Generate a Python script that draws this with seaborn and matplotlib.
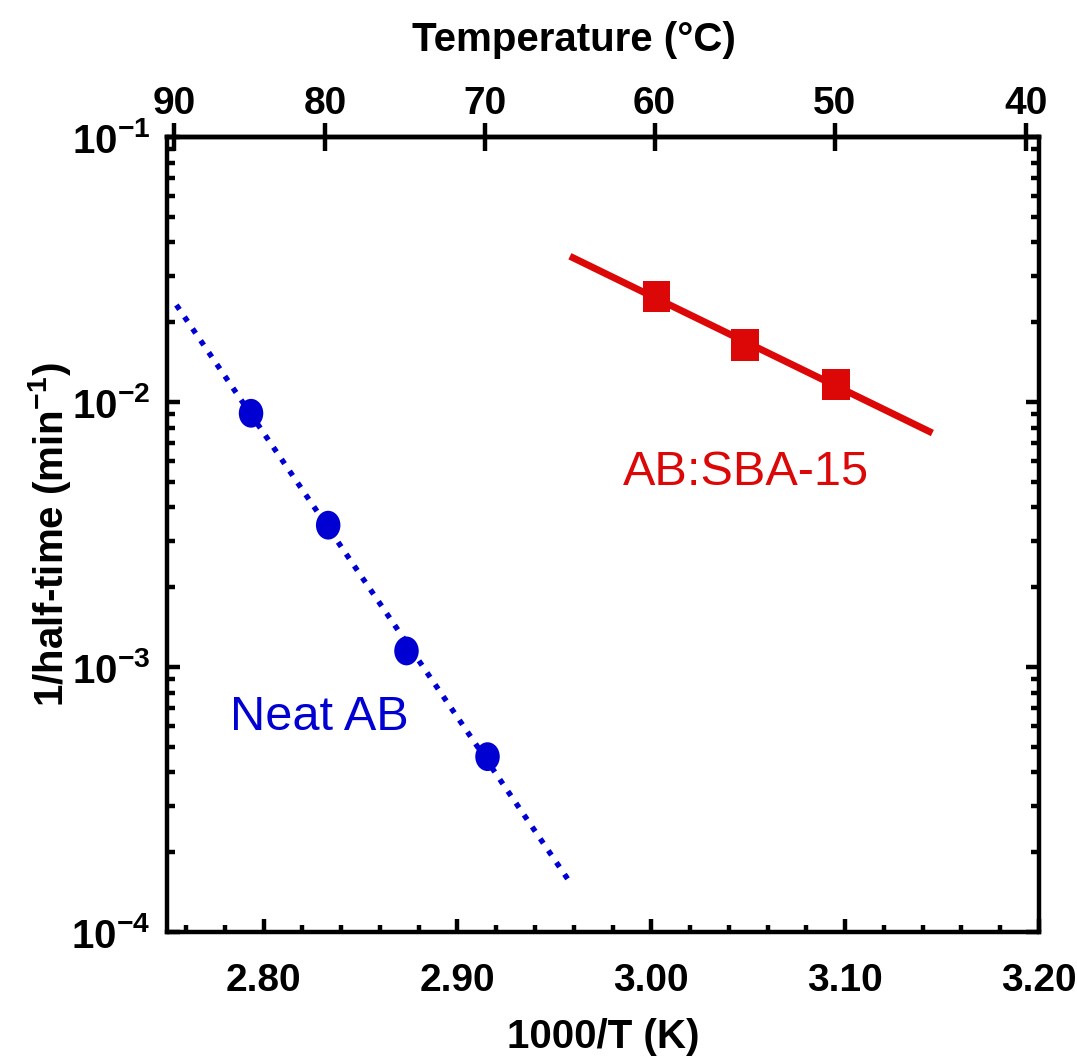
import numpy as np
import matplotlib
matplotlib.use('Agg')
import matplotlib.pyplot as plt
import seaborn as sns
from matplotlib.path import Path
from matplotlib.transforms import Affine2D
from matplotlib.ticker import MultipleLocator, LogLocator, FixedLocator, NullFormatter, NullLocator

# Neat AB: 1000/T (K) and 1/half-time (min^-1)
neat_x = [2.7935, 2.8333, 2.8737, 2.9155]
neat_y = [0.00907, 0.00343, 0.00115, 0.000459]
neat_fit_range = [2.755, 2.958]

# AB:SBA-15
sba_x = [3.0026, 3.0482, 3.0954]
sba_y = [0.0250, 0.0164, 0.01166]
sba_fit_range = [2.958, 3.145]

x_ticks = [2.80, 2.90, 3.00, 3.10, 3.20]
temp_ticks = [90, 80, 70, 60, 50, 40]
y_ticks = [1e-4, 1e-3, 1e-2, 1e-1]

blue = '#0000d2'
red = '#dc0808'

sns.set_style('ticks')
plt.rcParams['font.family'] = ['Liberation Sans', 'DejaVu Sans']
plt.rcParams['font.weight'] = 'bold'
plt.rcParams['axes.labelweight'] = 'bold'
for key in ['text.color', 'axes.labelcolor', 'xtick.color', 'ytick.color', 'axes.edgecolor']:
    plt.rcParams[key] = 'black'


def fit_line(xs, ys, xr):
    # straight line in log10(y) vs 1000/T (Arrhenius fit)
    k, b = np.polyfit(xs, np.log10(ys), 1)
    xr = np.asarray(xr)
    return xr, 10 ** (k * xr + b)


def to_celsius(x):
    x = np.asarray(x, dtype=float)
    with np.errstate(divide='ignore', invalid='ignore'):
        return 1000.0 / x - 273.15


def to_inv(c):
    c = np.asarray(c, dtype=float)
    with np.errstate(divide='ignore', invalid='ignore'):
        return 1000.0 / (c + 273.15)


fig = plt.figure(figsize=(10.77, 10.59), dpi=100)
ax = fig.add_axes([0.1548, 0.1199, 0.8099, 0.7507])
ax.set_yscale('log')

# markers slightly taller than wide, like the original
ellipse = Affine2D().scale(0.85, 1.0).transform_path(Path.unit_circle())
rect = Affine2D().translate(-0.5, -0.5).scale(0.87, 1.0).transform_path(Path.unit_rectangle())

fx, fy = fit_line(neat_x, neat_y, neat_fit_range)
sns.lineplot(x=fx, y=fy, ax=ax, color=blue, lw=3.9, linestyle=':', zorder=2)
fx, fy = fit_line(sba_x, sba_y, sba_fit_range)
sns.lineplot(x=fx, y=fy, ax=ax, color=red, lw=5, zorder=2, solid_capstyle='butt')

sns.scatterplot(x=neat_x, y=neat_y, ax=ax, marker=ellipse, s=430, color=blue,
                edgecolor='none', linewidth=0, zorder=3)
sns.scatterplot(x=sba_x, y=sba_y, ax=ax, marker=rect, s=520, color=red,
                edgecolor='none', linewidth=0, zorder=3)

ax.set_xlim(2.75, 3.20)
ax.set_ylim(1e-4, 1e-1)

# bottom axis
ax.set_xticks(x_ticks)
ax.set_xticklabels([f'{t:.2f}' for t in x_ticks])
ax.xaxis.set_minor_locator(MultipleLocator(0.02))
ax.tick_params(axis='x', which='both', direction='in', top=False, bottom=True,
               labelsize=28, pad=22, width=3.2)
ax.tick_params(axis='x', which='major', length=9.5)
ax.tick_params(axis='x', which='minor', length=5.2)

# left / right log axis
ax.yaxis.set_major_locator(FixedLocator(y_ticks))
ax.yaxis.set_minor_locator(LogLocator(base=10, subs=np.arange(2, 10)))
ax.yaxis.set_minor_formatter(NullFormatter())
ax.tick_params(axis='y', which='both', direction='in', left=True, right=True,
               labelsize=29, pad=12, width=3.2)
ax.tick_params(axis='y', which='major', length=9.5)
ax.tick_params(axis='y', which='minor', length=5.8)

for sp in ax.spines.values():
    sp.set_linewidth(3.2)

ax.set_xlabel('1000/T (K)', fontsize=29)
ax.xaxis.set_label_coords(0.5, -0.108)
ax.set_ylabel(r'1/half-time (min$^{\mathdefault{-1}}$)', fontsize=29)
ax.yaxis.set_label_coords(-0.108, 0.5)

# top temperature axis
sec = ax.secondary_xaxis('top', functions=(to_celsius, to_inv))
sec.set_xticks(temp_ticks)
sec.xaxis.set_minor_locator(NullLocator())
sec.tick_params(axis='x', direction='inout', length=20, width=3.2, labelsize=28, pad=1)
sec.spines['top'].set_linewidth(3.2)
sec.set_xlabel('Temperature (°C)', fontsize=29)
sec.xaxis.set_label_coords(0.467, 1.108, transform=ax.transAxes)

ax.text(0.0726, 0.254, 'Neat AB', transform=ax.transAxes, color=blue,
        fontsize=35, fontweight='normal', va='baseline')
ax.text(0.523, 0.562, 'AB:SBA-15', transform=ax.transAxes, color=red,
        fontsize=35, fontweight='normal', va='baseline')

fig.savefig('out.png', dpi=100)
